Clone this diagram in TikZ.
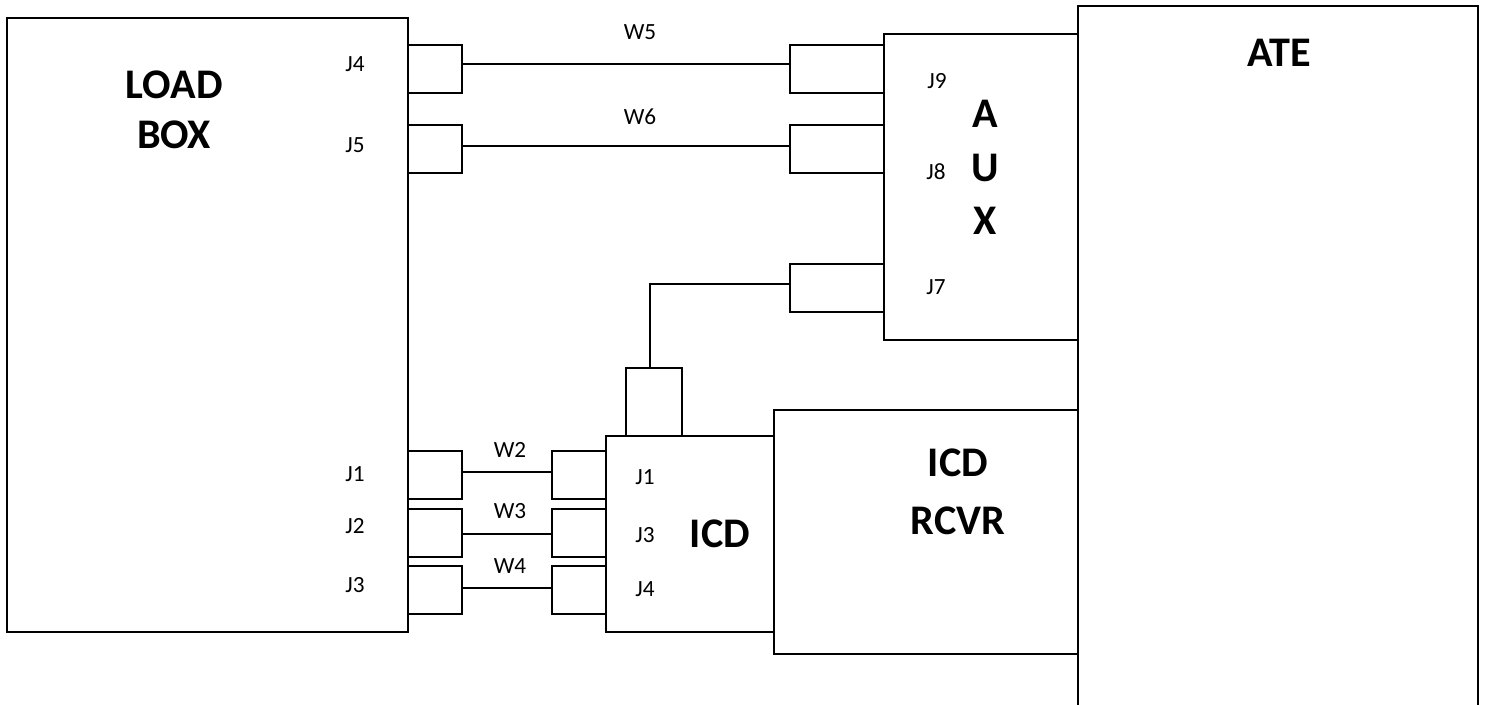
\documentclass[tikz,border=0pt]{standalone}
\usepackage{fontspec}
\setmainfont{Carlito}
\usepackage{tikz}
\usetikzlibrary{positioning,calc}

\begin{document}
\begin{tikzpicture}[
  x=0.02cm, y=-0.02cm,
  unit/.style={draw, line width=1.1pt, inner sep=0pt},
  plug/.style={unit, minimum width=1.08cm, minimum height=0.96cm},
  longplug/.style={unit, minimum width=1.88cm, minimum height=0.96cm},
  wire/.style={line width=1.1pt},
  title/.style={font=\fontsize{24}{28.4}\selectfont\bfseries, align=center, inner sep=0pt},
  tag/.style={font=\fontsize{13.2}{15}\selectfont, inner sep=0pt}
]
\useasboundingbox (0,0) rectangle (1487,705);

% main boxes
\node[unit, minimum width=8.02cm, minimum height=12.28cm] (load) at (207.5,325) {};
\node[unit, minimum width=3.88cm, minimum height=6.12cm] (aux) at (981,187) {};
\node[unit, minimum width=6.08cm, minimum height=4.88cm] (rcvr) at (926,532) {};
\node[unit, minimum width=3.36cm, minimum height=3.92cm] (icd) at (690,534) {};
\draw[wire] (1078,705) |- (1478,6) -- (1478,705);

% plugs on load box
\node[plug] (lfour) at (435,69) {};
\node[plug] (lfive) at (435,149) {};
\node[plug] (lone) at (435,475) {};
\node[plug] (ltwo) at (435,533) {};
\node[plug] (lthree) at (435,590) {};

% plugs on aux
\node[longplug] (anine) at (837,69) {};
\node[longplug] (aeight) at (837,149) {};
\node[longplug] (aseven) at (837,288) {};

% plugs on icd
\node[plug] (ione) at (579,475) {};
\node[plug] (ithree) at (579,533) {};
\node[plug] (ifour) at (579,590) {};
\node[unit, minimum width=1.12cm, minimum height=1.36cm] (itop) at (654,402) {};

% wires
\draw[wire] ([yshift=1mm]lfour.east) -- ([yshift=1mm]anine.west);
\draw[wire] ([yshift=0.6mm]lfive.east) -- ([yshift=0.6mm]aeight.west);
\draw[wire] ([yshift=0.6mm]lone.east) -- ([yshift=0.6mm]ione.west);
\draw[wire] ([yshift=-0.2mm]ltwo.east) -- ([yshift=-0.2mm]ithree.west);
\draw[wire] ([yshift=0.4mm]lthree.east) -- ([yshift=0.4mm]ifour.west);
\draw[wire] ([yshift=0.08cm]aseven.west) -| ([xshift=-0.08cm]itop.north);

% titles
\node[title] (loadname) at (174,110) {LOAD\\BOX};
\node[title] (atename) at (1279,53) {ATE};
\node[title] (auxa) at (985,114) {A};
\node[title] (auxu) at (985,168) {U};
\node[title] (auxx) at (985,221) {X};
\node[title] (icdname) at (720,534) {ICD};
\node[title] (rcvrname) at (958,492) {ICD\\[0.16cm]RCVR};

% connector names
\node[tag] (jfour) at (355,64) {J4};
\node[tag] (jfive) at (355,145) {J5};
\node[tag] (jone) at (355,474) {J1};
\node[tag] (jtwo) at (355,526) {J2};
\node[tag] (jthree) at (355,585) {J3};
\node[tag] (jnine) at (937,81) {J9};
\node[tag] (jeight) at (936,172) {J8};
\node[tag] (jseven) at (936,287) {J7};
\node[tag] (kone) at (645,477) {J1};
\node[tag] (kthree) at (645,535) {J3};
\node[tag] (kfour) at (645,589) {J4};

% wire names
\node[tag] (wfive) at (640,32) {W5};
\node[tag] (wsix) at (640,117) {W6};
\node[tag] (wtwo) at (510,450) {W2};
\node[tag] (wthree) at (510,511) {W3};
\node[tag] (wfour) at (510,566) {W4};
\end{tikzpicture}
\end{document}
